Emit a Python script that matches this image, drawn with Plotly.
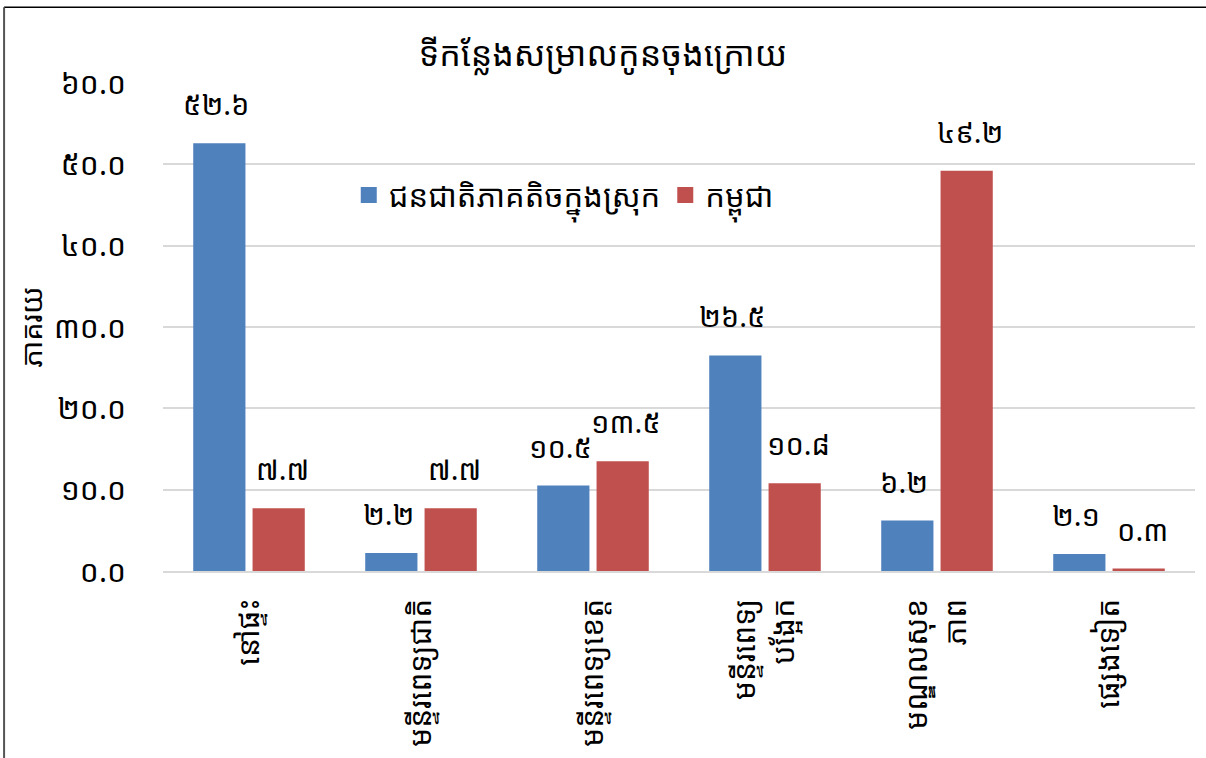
import plotly.graph_objects as go

KHMER_DIGITS = "០១២៣៤៥៦៧៨៩"

def kh(s):
    """Swap ASCII digits for Khmer digits."""
    return "".join(KHMER_DIGITS[int(c)] if c.isdigit() else c for c in s)

TITLE = "ទីកន្លែងសម្រាលកូនចុងក្រោយ"
Y_TITLE = "ភាគរយ"
CATEGORIES = [
    "នៅផ្ទះ",
    "មន្ទីរពេទ្យជាតិ",
    "មន្ទីរពេទ្យខេត្ត",
    "មន្ទីរពេទ្យ<br>បង្អែក",
    "មណ្ឌលសុខ<br>ភាព",
    "ផ្សេងទៀត",
]
SERIES_NAMES = ["ជនជាតិភាគតិចក្នុងស្រុក", "កម្ពុជា"]
MINORITY = [52.6, 2.2, 10.5, 26.5, 6.2, 2.1]
CAMBODIA = [7.7, 7.7, 13.5, 10.8, 49.2, 0.3]
Y_TICKS = [0, 10, 20, 30, 40, 50, 60]

COLORS = ["#4F81BD", "#C0504D"]
FONT = "Noto Sans Khmer, Khmer OS, Khmer OS System, DejaVu Sans, Noto Sans"

fig = go.Figure()
for name, vals, col in zip(SERIES_NAMES, [MINORITY, CAMBODIA], COLORS):
    fig.add_bar(x=CATEGORIES, y=vals, name=name, marker_color=col,
                marker_line_width=0, showlegend=False)
    # legend-only stand-in with a bigger square swatch
    fig.add_scatter(x=[None], y=[None], mode="markers", name=name,
                    marker=dict(symbol="square", size=22, color=col))

# data labels above each bar
for i, vals in enumerate([MINORITY, CAMBODIA]):
    shift = -33 if i == 0 else 33
    for cat, v in zip(CATEGORIES, vals):
        fig.add_annotation(x=cat, y=v, text=kh(f"{v:.1f}"), showarrow=False,
                           xshift=shift, yshift=18, yanchor="bottom",
                           font=dict(size=29, color="#000000", family=FONT))

fig.update_layout(
    width=1206, height=758,
    paper_bgcolor="white", plot_bgcolor="white",
    font=dict(family=FONT, color="#000000"),
    title=dict(text=TITLE, x=0.5, xanchor="center", y=0.929, yanchor="middle",
               font=dict(size=34)),
    barmode="group", bargap=0.31, bargroupgap=0.12,
    margin=dict(l=163, r=11, t=83, b=185),
    showlegend=True,
    legend=dict(orientation="h", x=0.18, y=0.825, xanchor="left", yanchor="top",
                font=dict(size=31), bgcolor="rgba(0,0,0,0)", itemwidth=30),
    shapes=[
        dict(type="line", xref="paper", yref="paper", x0=-0.154, x1=1.02,
             y0=1.155, y1=1.155, line=dict(color="#000000", width=1.5)),
        dict(type="line", xref="paper", yref="paper", x0=-0.154, x1=-0.154,
             y0=1.155, y1=-0.5, line=dict(color="#555555", width=2)),
    ],
)
fig.update_yaxes(range=[0, 60], tickvals=Y_TICKS,
                 ticktext=[kh(f"{t:.1f}") for t in Y_TICKS],
                 tickfont=dict(size=30), showgrid=True, gridcolor="#D9D9D9",
                 gridwidth=1.5, zeroline=False, ticks="", ticklen=0,
                 ticklabelstandoff=36,
                 title=dict(text=Y_TITLE, font=dict(size=29), standoff=2))
fig.update_xaxes(tickangle=-90, tickfont=dict(size=30), showline=True,
                 linecolor="#D9D9D9", linewidth=1.5, ticks="",
                 ticklabelstandoff=14)

fig.write_html("out.html", config={"displayModeBar": False},
               post_script="document.body.style.margin='0';")
